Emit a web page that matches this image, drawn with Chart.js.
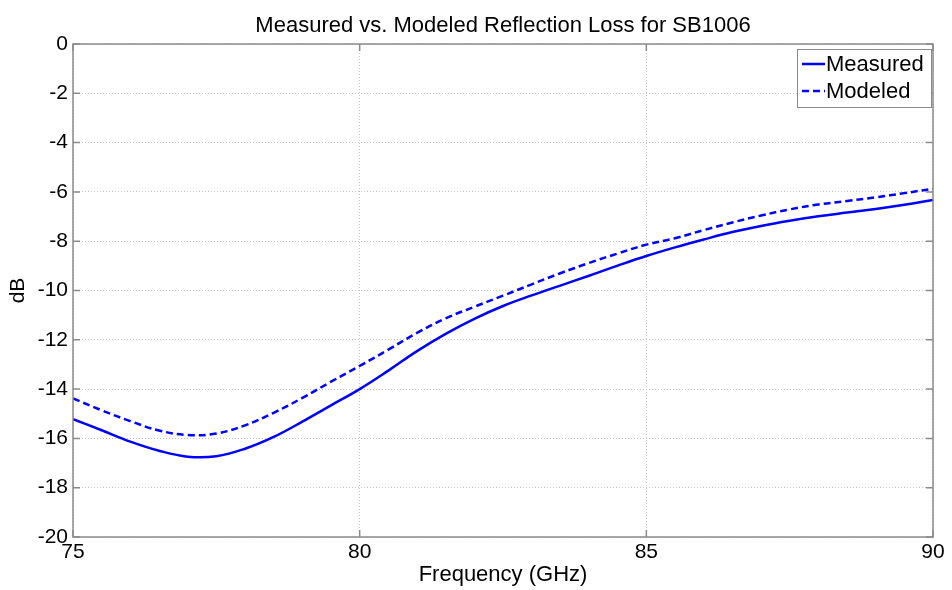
<!DOCTYPE html>
<html>
<head>
<meta charset="utf-8">
<script src="https://cdn.jsdelivr.net/npm/chart.js@4"></script>
<style>
  html, body { margin:0; padding:0; background:#fff; }
  canvas { display:block; }
</style>
</head>
<body>
<canvas id="c" width="952" height="590"></canvas>
<script>
// --- Data ---
const freqGHz = [75, 75.5, 76, 76.5, 77, 77.5, 78, 78.5, 79, 79.5, 80, 80.5, 81, 81.5, 82, 82.5,
                 83, 83.5, 84, 84.5, 85, 85.5, 86, 86.5, 87, 87.5, 88, 88.5, 89, 89.5, 90];
const measured = [-15.22, -15.67, -16.13, -16.50, -16.74, -16.72, -16.42, -15.94, -15.32, -14.66, -14.00,
                  -13.25, -12.46, -11.76, -11.15, -10.63, -10.20, -9.80, -9.40, -8.99, -8.60,
                  -8.25, -7.93, -7.63, -7.38, -7.17, -6.99, -6.84, -6.69, -6.52, -6.33];
const modeled  = [-14.38, -14.86, -15.30, -15.68, -15.86, -15.80, -15.47, -14.96, -14.36, -13.70, -13.06,
                  -12.40, -11.72, -11.13, -10.66, -10.21, -9.75, -9.30, -8.88, -8.50, -8.14,
                  -7.88, -7.55, -7.24, -6.96, -6.71, -6.51, -6.37, -6.22, -6.05, -5.87];
const seriesNames = ['Measured', 'Modeled'];
const chartTitle = 'Measured vs. Modeled Reflection Loss for SB1006';
const xTicks = [75, 80, 85, 90];
const yTicks = [0, -2, -4, -6, -8, -10, -12, -14, -16, -18, -20];

const FONT = '"Liberation Sans", Arial, sans-serif';
const BLUE = '#0000ff';
const FRAME = '#8a8a8a';

const toXY = (ys) => freqGHz.map((x, i) => ({ x, y: ys[i] }));

// Title, box round the plot, inward ticks, and the legend in the top-right corner
const matlabFrame = {
  id: 'matlabFrame',
  afterDraw(chart){
    const { ctx, chartArea: a, scales } = chart;
    ctx.save();

    ctx.fillStyle = '#000';
    ctx.font = '22px ' + FONT;
    ctx.textAlign = 'center';
    ctx.textBaseline = 'alphabetic';
    ctx.fillText(chartTitle, (a.left + a.right) / 2, 32);

    ctx.strokeStyle = FRAME;
    ctx.lineWidth = 1.5;
    ctx.strokeRect(a.left, a.top, a.right - a.left, a.bottom - a.top);

    const tl = 7;
    ctx.beginPath();
    xTicks.forEach(v => {
      const px = scales.x.getPixelForValue(v);
      ctx.moveTo(px, a.bottom); ctx.lineTo(px, a.bottom - tl);
      ctx.moveTo(px, a.top);    ctx.lineTo(px, a.top + tl);
    });
    yTicks.forEach(v => {
      const py = scales.y.getPixelForValue(v);
      ctx.moveTo(a.left, py);  ctx.lineTo(a.left + tl, py);
      ctx.moveTo(a.right, py); ctx.lineTo(a.right - tl, py);
    });
    ctx.stroke();

    // legend
    const bx = a.right - 136, by = a.top + 5, bw = 134, bh = 58;
    ctx.fillStyle = '#fff';
    ctx.fillRect(bx, by, bw, bh);
    ctx.strokeStyle = FRAME;
    ctx.lineWidth = 1;
    ctx.strokeRect(bx + 0.5, by + 0.5, bw, bh);

    ctx.font = '22px ' + FONT;
    ctx.textAlign = 'left';
    ctx.textBaseline = 'middle';
    chart.data.datasets.forEach((ds, i) => {
      const ly = by + 15 + i * 27;
      ctx.strokeStyle = ds.borderColor;
      ctx.lineWidth = 2.5;
      ctx.setLineDash(ds.borderDash || []);
      ctx.beginPath();
      ctx.moveTo(bx + 5, ly); ctx.lineTo(bx + 28, ly);
      ctx.stroke();
      ctx.setLineDash([]);
      ctx.fillStyle = '#000';
      ctx.fillText(ds.label, bx + 29, ly + 1);
    });
    ctx.restore();
  }
};

new Chart(document.getElementById('c'), {
  type: 'line',
  data: {
    datasets: [
      { label: seriesNames[0], data: toXY(measured), borderColor: BLUE, borderWidth: 2.5,
        pointRadius: 0, tension: 0.4, fill: false },
      { label: seriesNames[1], data: toXY(modeled), borderColor: BLUE, borderWidth: 2.5,
        borderDash: [7, 4], pointRadius: 0, tension: 0.4, fill: false }
    ]
  },
  options: {
    responsive: false,
    devicePixelRatio: 1,
    animation: false,
    layout: { padding: { left: 0, right: 19, top: 44, bottom: 0 } },
    plugins: {
      legend: { display: false },
      tooltip: { enabled: false },
      title: { display: false }
    },
    scales: {
      x: {
        type: 'linear', min: 75, max: 90,
        afterFit: (s) => { s.height = 53; },
        afterBuildTicks: (s) => { s.ticks = xTicks.map(v => ({ value: v })); },
        grid: { color: '#c4c4c4', lineWidth: 1, drawTicks: false },
        border: { display: false, dash: [1, 2] },
        ticks: { color: '#000', padding: 3, maxRotation: 0, font: { family: FONT, size: 21 },
                 callback: (v) => String(v) },
        title: { display: true, text: 'Frequency (GHz)', color: '#000',
                 font: { family: FONT, size: 22 }, padding: { top: 0, bottom: 2 } }
      },
      y: {
        min: -20, max: 0,
        afterFit: (s) => { s.width = 73; },
        afterBuildTicks: (s) => { s.ticks = yTicks.slice().reverse().map(v => ({ value: v })); },
        grid: { color: '#c4c4c4', lineWidth: 1, drawTicks: false },
        border: { display: false, dash: [1, 2] },
        ticks: { color: '#000', padding: 5, font: { family: FONT, size: 21 },
                 callback: (v) => String(v) },
        title: { display: true, text: 'dB', color: '#000',
                 font: { family: FONT, size: 21 }, padding: { top: 6, bottom: 0 } }
      }
    }
  },
  plugins: [matlabFrame]
});
</script>
</body>
</html>
